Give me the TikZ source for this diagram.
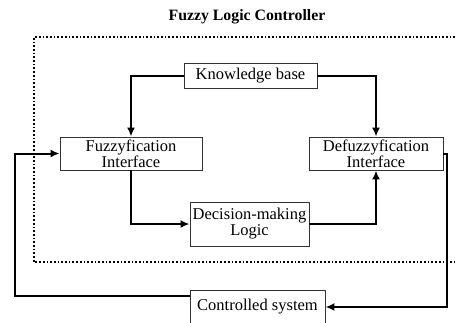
\documentclass[tikz,border=0pt]{standalone}
\usepackage{fontspec}
\setmainfont{Liberation Serif}
\usetikzlibrary{arrows.meta}
\tikzset{
  blk/.style={draw=black!80, line width=0.9pt, fill=white, inner sep=0pt, align=center,
    font=\fontsize{16.5}{16}\selectfont},
  conn/.style={line width=2pt, -{Latex[length=9pt,width=8pt]}},
  frame/.style={line width=1.7pt, dotted}
}
\begin{document}
\begin{tikzpicture}[x=1pt,y=-1pt]
\useasboundingbox (0,0) rectangle (455,322);
\node[font=\bfseries\fontsize{15.8}{16}\selectfont] (title) at (247,17) {Fuzzy Logic Controller};
\draw[frame] (455,37) -- (34,37) -- (34,262) -- (455,262);
\node[blk, minimum width=133pt, minimum height=25pt] (kb) at (250.5,75.5) {Knowledge base};
\node[blk, minimum width=142pt, minimum height=33pt] (fz) at (131,153.5) {Fuzzyfication\\Interface};
\node[blk, minimum width=134pt, minimum height=33pt] (dfz) at (376,153.5) {Defuzzyfication\\Interface};
\node[blk, minimum width=119pt, minimum height=44pt] (dm) at (249.5,224) {Decision-making\\Logic};
\node[blk, minimum width=135pt, minimum height=34pt] (cs) at (257.5,307) {Controlled system};
\draw[conn] (kb.west) -| (fz.north);
\draw[conn] (kb.east) -| (dfz.north);
\draw[conn] (fz.south) |- (dm.west);
\draw[conn] (dm.east) -| (dfz.south);
\draw[conn] (dfz.east) -- ++(4,0) |- (cs.east);
\draw[conn] ([yshift=11pt]cs.west) -- ++(-175,0) |- (fz.west);
\end{tikzpicture}
\end{document}
